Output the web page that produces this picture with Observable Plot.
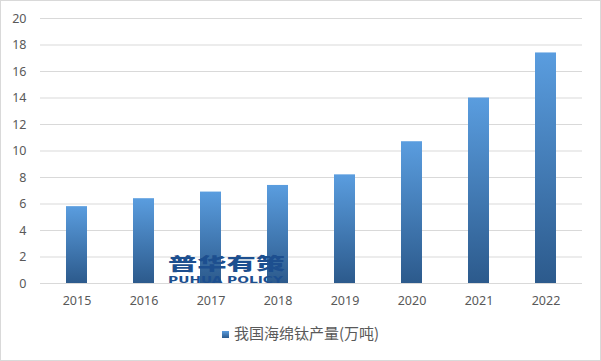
<!DOCTYPE html>
<html>
<head>
<meta charset="utf-8">
<script src="https://cdn.jsdelivr.net/npm/d3@7"></script>
<script src="https://cdn.jsdelivr.net/npm/@observablehq/plot@0.6"></script>
<style>
  html, body { margin: 0; padding: 0; background: #fff; }
  #wrap { position: relative; width: 601px; height: 361px; overflow: hidden; background: #fff; }
  #frame { position: absolute; left: 0; top: 0; width: 601px; height: 361px; box-sizing: border-box; border: 1px solid #d9d9d9; pointer-events: none; }
  #legend { position: absolute; left: 0; top: 322px; width: 601px; text-align: center; font-family: "Noto Sans CJK SC", "Noto Sans", sans-serif; font-size: 15px; color: #595959; }
  #legend .sw { display: inline-block; width: 7px; height: 7px; background: linear-gradient(#5a9ddf, #2c5a8c); margin-right: 5px; vertical-align: 1px; }
</style>
</head>
<body>
<div id="wrap">
  <div id="chart"></div>
  <div id="legend"><span class="sw"></span>我国海绵钛产量(万吨)</div>
  <div id="frame"></div>
</div>
<script>
const years = ["2015", "2016", "2017", "2018", "2019", "2020", "2021", "2022"];
const output = [5.8, 6.4, 6.9, 7.4, 8.2, 10.7, 14.0, 17.4];
const yTicks = [0, 2, 4, 6, 8, 10, 12, 14, 16, 18, 20];
const seriesName = "我国海绵钛产量(万吨)";
const watermarkCn = "普华有策";
const watermarkEn = "PUHUA POLICY";
const watermark = [{cn: watermarkCn, en: watermarkEn}];

const data = years.map((y, i) => ({year: y, value: output[i]}));

const chart = Plot.plot({
  width: 601,
  height: 318,
  marginLeft: 40,
  marginRight: 19,
  marginTop: 18,
  marginBottom: 35,
  style: {fontFamily: "'Noto Sans', sans-serif", fontSize: "12.5px", color: "#595959", background: "transparent"},
  x: {domain: years, paddingInner: 0.68, paddingOuter: 0.34, label: null, tickSize: 0, tickPadding: 13},
  y: {domain: [0, 20], ticks: yTicks, label: null, tickSize: 0, tickPadding: 14},
  marks: [
    Plot.gridY(yTicks, {stroke: "#d9d9d9", strokeOpacity: 1}),
    Plot.barY(data, {x: "year", y: "value", fill: "url(#barGrad)"}),
    Plot.text(watermark, {text: "cn", frameAnchor: "bottom-left", dx: 186, dy: -14, fill: "#1d4f8f", fontSize: 17, fontWeight: "900", fontFamily: "'Noto Sans CJK SC', sans-serif", textAnchor: "middle"}),
    Plot.text(watermark, {text: "en", frameAnchor: "bottom-left", dx: 185, dy: -1, fill: "#1d4f8f", fontSize: 9, fontWeight: "bold", fontFamily: "'DejaVu Sans', sans-serif", textAnchor: "middle"}),
    Plot.axisX({tickSize: 0, tickPadding: 13, fill: "#595959"}),
    Plot.axisY(yTicks, {tickSize: 0, tickPadding: 14, fill: "#595959"})
  ]
});

const svg = d3.select(chart);
const defs = svg.insert("defs", ":first-child");
const g = defs.append("linearGradient").attr("id", "barGrad").attr("x1", 0).attr("y1", 0).attr("x2", 0).attr("y2", 1);
g.append("stop").attr("offset", "0%").attr("stop-color", "#5a9ddf");
g.append("stop").attr("offset", "100%").attr("stop-color", "#2c5a8c");

document.getElementById("chart").appendChild(chart);

// stretch the watermark horizontally to match the wide logo lettering
function stretch(label, targetWidth) {
  svg.selectAll("text").filter(function() { return this.textContent === label; }).each(function() {
    const w = this.getComputedTextLength();
    const s = w > 0 ? targetWidth / w : 1;
    const t = this.getAttribute("transform");
    if (t) {
      this.setAttribute("transform", t + ` scale(${s},1)`);
    } else {
      const x = +this.getAttribute("x") || 0, y = +this.getAttribute("y") || 0;
      this.removeAttribute("x"); this.removeAttribute("y");
      this.setAttribute("transform", `translate(${x},${y}) scale(${s},1)`);
    }
  });
}
stretch(watermarkCn, 117);
stretch(watermarkEn, 115);
</script>
</body>
</html>
